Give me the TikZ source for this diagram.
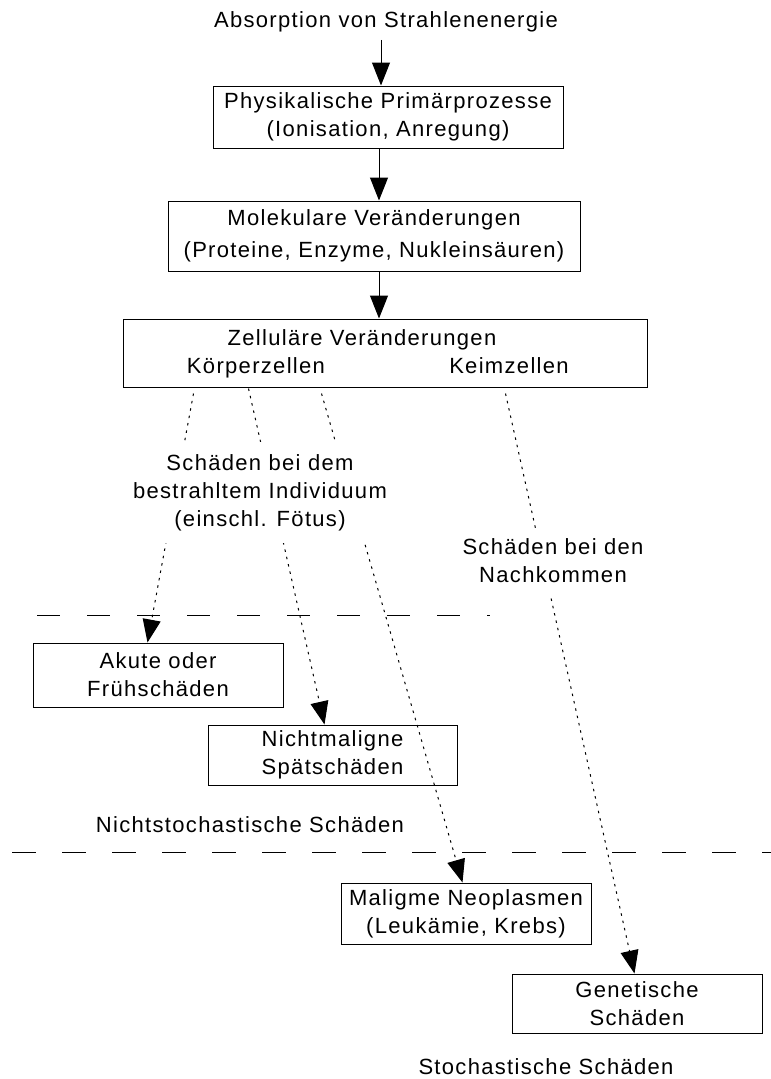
\documentclass[tikz,border=0pt]{standalone}
\usepackage{fontspec}
\setmainfont{Liberation Sans}[LetterSpace=6]
\usetikzlibrary{arrows.meta}
\begin{document}
\begin{tikzpicture}[x=1pt,y=-1pt,
  font=\fontsize{22}{28}\selectfont,
  box/.style={draw, line width=1pt, inner sep=0pt, align=center},
  lbl/.style={inner sep=0pt, anchor=base},
  gap/.style={fill=white, inner sep=12pt, align=center},
  arr/.style={line width=1pt, -{Triangle[length=23pt,width=18pt]}},
  dotarr/.style={line width=1pt, dash pattern=on 2.5pt off 5pt, -{Triangle[length=23pt,width=18pt]}},
  dashline/.style={line width=1pt, dash pattern=on 24pt off 26pt}]
\useasboundingbox (0,0) rectangle (771,1079);
\fill[white] (0,0) rectangle (771,1079);

% texts and boxes
\node[lbl] (abs) at (386,27) {Absorption von Strahlenenergie};
\node[box, minimum width=350pt, minimum height=62pt] (b1) at (388,117)
  {Physikalische Primärprozesse\\(Ionisation, Anregung)};
\node[box, minimum width=412pt, minimum height=70pt, font=\fontsize{22}{32}\selectfont] (b2) at (374,236)
  {Molekulare Veränderungen\\(Proteine, Enzyme, Nukleinsäuren)};
\node[box, minimum width=524pt, minimum height=68pt] (b3) at (385,353) {};
\node[lbl] (t3a) at (362,345) {Zelluläre Veränderungen};
\node[lbl] (t3b) at (256,373) {Körperzellen};
\node[lbl] (t3c) at (509,373) {Keimzellen};

\node[box, minimum width=250pt, minimum height=64pt] (ak) at (158,675)
  {Akute oder\\Frühschäden};
\node[box, minimum width=249pt, minimum height=60pt] (nm) at (332.5,755)
  {Nichtmaligne\\Spätschäden};
\node[lbl] (ns) at (250,832) {Nichtstochastische Schäden};
\node[box, minimum width=250pt, minimum height=61pt] (mn) at (466,913.5)
  {Maligme Neoplasmen\\(Leukämie, Krebs)};
\node[box, minimum width=250pt, minimum height=59pt] (gs) at (637,1003.5)
  {Genetische\\Schäden};
\node[lbl] (st) at (546,1074) {Stochastische Schäden};

% dashed separators
\coordinate (d1a) at (37,615);
\coordinate (d1b) at (490,615);
\coordinate (d2a) at (12,852);
\coordinate (d2b) at (771,852);
\draw[dashline, dash pattern=on 23pt off 27pt] (d1a) -- (d1b);
\draw[dashline] (d2a) -- (d2b);

% solid arrows
\draw[arr] ([xshift=-5pt,yshift=-8pt]abs.south) -- ([xshift=-7pt]b1.north);
\draw[arr] ([xshift=-9pt]b1.south) -- ([xshift=-9pt]b1.south |- b2.north);
\draw[arr] ([xshift=5pt]b2.south) -- ([xshift=5pt]b2.south |- b3.north);

% dotted arrows
\draw[dotarr] ([xshift=71pt,yshift=-6pt]b3.south west) -- ([xshift=115pt]ak.north west);
\draw[dotarr] ([xshift=126pt,yshift=-1pt]b3.south west) -- ([xshift=117pt]nm.north west);
\draw[dotarr] ([xshift=199pt,yshift=-6pt]b3.south west) -- ([xshift=122pt]mn.north west);
\draw[dotarr] ([xshift=383pt,yshift=-6pt]b3.south west) -- ([xshift=123pt]gs.north west);

% labels over the dotted lines
\node[gap] (l1) at (260,492.5) {Schäden bei dem\\bestrahltem Individuum\\(einschl. Fötus)};
\node[gap, inner sep=11pt] (l2) at (553,561) {Schäden bei den\\Nachkommen};
\end{tikzpicture}
\end{document}
